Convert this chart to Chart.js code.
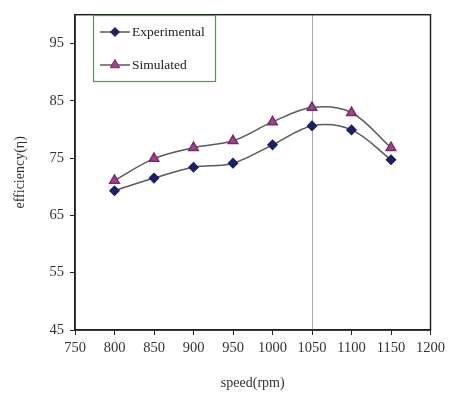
<!DOCTYPE html>
<html><head><meta charset="utf-8">
<script src="https://cdn.jsdelivr.net/npm/chart.js@4"></script>
<style>html,body{margin:0;padding:0;background:#fff}#w{width:449px;height:396px}</style>
</head><body><div id="w"><canvas id="c"></canvas></div>
<script>
const speeds = [800, 850, 900, 950, 1000, 1050, 1100, 1150];
const experimental = [69.3, 71.5, 73.4, 74.1, 77.3, 80.6, 79.9, 74.7];
const simulated = [71.1, 74.9, 76.8, 78.0, 81.3, 83.8, 82.9, 76.8];
const xTicks = [750, 800, 850, 900, 950, 1000, 1050, 1100, 1150, 1200];
const yTicks = [45, 55, 65, 75, 85, 95];
const markerLine = 1050;
const FONT = "'Liberation Serif', 'DejaVu Serif', serif";

const framePlugin = {
  id: 'frame',
  beforeDatasetsDraw(chart) {
    const {ctx, chartArea: a, scales: {x}} = chart;
    ctx.save();
    const vx = Math.round(x.getPixelForValue(markerLine)) + 0.5;
    ctx.strokeStyle = '#aaaaaa'; ctx.lineWidth = 1;
    ctx.beginPath(); ctx.moveTo(vx, a.top); ctx.lineTo(vx, a.bottom); ctx.stroke();
    ctx.strokeStyle = '#222'; ctx.lineWidth = 1.5;
    ctx.strokeRect(a.left, a.top, a.right - a.left, a.bottom - a.top);
    ctx.restore();
  },
  afterDraw(chart) {
    const {ctx} = chart;
    ctx.save();
    const bx = 93, by = 15, bw = 122, bh = 66;
    ctx.fillStyle = '#fff'; ctx.fillRect(bx, by, bw, bh);
    ctx.strokeStyle = '#5f8f5f'; ctx.lineWidth = 1.2;
    ctx.strokeRect(bx + 0.5, by + 0.5, bw, bh);
    chart.data.datasets.forEach((ds, i) => {
      const y = by + 17 + i * 33;
      ctx.strokeStyle = ds.borderColor; ctx.lineWidth = 1.5;
      ctx.beginPath(); ctx.moveTo(bx + 7, y); ctx.lineTo(bx + 37, y); ctx.stroke();
      ctx.fillStyle = ds.pointBackgroundColor; ctx.strokeStyle = ds.pointBorderColor; ctx.lineWidth = 1;
      Chart.helpers.drawPoint(ctx, {pointStyle: ds.pointStyle, radius: ds.pointRadius, borderWidth: 1}, bx + 22, y);
      ctx.fillStyle = '#222'; ctx.font = '13.5px ' + FONT; ctx.textBaseline = 'middle';
      ctx.fillText(ds.label, bx + 39, y);
    });
    ctx.restore();
  }
};

new Chart(document.getElementById('c'), {
  type: 'line',
  data: {
    datasets: [
      {label: 'Experimental', data: speeds.map((s, i) => ({x: s, y: experimental[i]})),
       borderColor: '#5a5a5a', borderWidth: 1.5, tension: 0.35,
       pointStyle: 'rectRot', pointRadius: 4.5, pointBackgroundColor: '#1b1f66', pointBorderColor: '#1b1f66'},
      {label: 'Simulated', data: speeds.map((s, i) => ({x: s, y: simulated[i]})),
       borderColor: '#5a5a5a', borderWidth: 1.5, tension: 0.35,
       pointStyle: 'triangle', pointRadius: 5.5, pointBackgroundColor: '#a0438a', pointBorderColor: '#7a2a68'}
    ]
  },
  options: {
    responsive: true, maintainAspectRatio: false, animation: false,
    layout: {padding: {top: 9, right: 17, left: 0, bottom: 0}},
    plugins: {legend: {display: false}, tooltip: {enabled: false}},
    scales: {
      x: {type: 'linear', min: 750, max: 1200,
        afterBuildTicks: s => { s.ticks = xTicks.map(v => ({value: v})); },
        afterFit: s => { s.height = 66; },
        grid: {drawOnChartArea: false, color: '#222', tickLength: 5},
        border: {color: '#222', width: 1.5},
        ticks: {color: '#333', font: {family: FONT, size: 14.5}, maxRotation: 0, autoSkip: false, padding: 4,
                callback: v => String(v)},
        title: {display: true, text: 'speed(rpm)', color: '#333', font: {family: FONT, size: 14}, padding: {top: 2}}
      },
      y: {min: 45, max: 100,
        afterBuildTicks: s => { s.ticks = yTicks.map(v => ({value: v})); },
        afterFit: s => { s.width = 75; },
        grid: {drawOnChartArea: false, color: '#222', tickLength: 5},
        border: {color: '#222', width: 1.5},
        ticks: {color: '#333', font: {family: FONT, size: 14.5}, padding: 6, callback: v => String(v)},
        title: {display: true, text: 'efficiency(η)', color: '#333', font: {family: FONT, size: 14}, padding: {top: 12, bottom: 0}}
      }
    }
  },
  plugins: [framePlugin]
});
</script></body></html>
